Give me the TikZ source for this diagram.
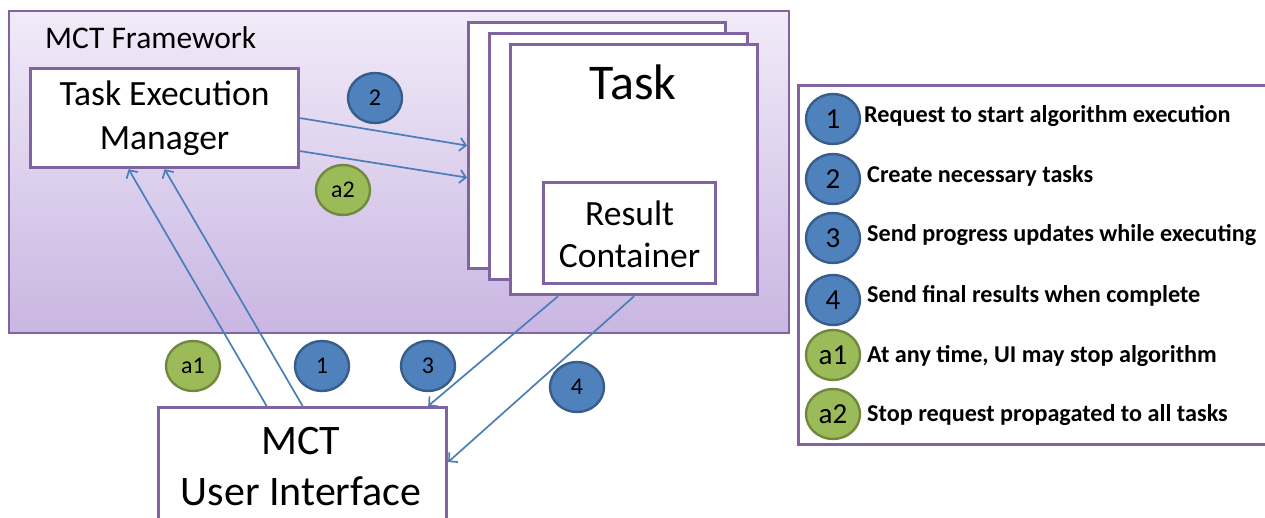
\documentclass[tikz,border=0pt]{standalone}
\usepackage{fontspec}
\setmainfont{Carlito}
\usetikzlibrary{arrows.meta,shapes.geometric,calc}
\definecolor{frame}{HTML}{8064A2}
\definecolor{flowblue}{HTML}{4A7EBB}
\definecolor{stepblue}{HTML}{4F81BD}
\definecolor{stepblueedge}{HTML}{385D8A}
\definecolor{stepgreen}{HTML}{9BBB59}
\definecolor{stepgreenedge}{HTML}{71893F}
\definecolor{fwtop}{HTML}{F1EBF8}
\definecolor{fwbottom}{HTML}{C9B6E2}
\tikzset{
  whitebox/.style={draw=frame, line width=3.2pt, fill=white, rectangle, inner sep=0pt},
  flow/.style={draw=flowblue, line width=1.7pt, -{Straight Barb[length=6pt,width=13pt,line width=1.7pt]}},
  badge/.style={ellipse, minimum width=54pt, minimum height=50pt, inner sep=0pt, line width=2.4pt},
  bluebadge/.style={badge, fill=stepblue, draw=stepblueedge},
  greenbadge/.style={badge, fill=stepgreen, draw=stepgreenedge},
  smallnum/.style={font=\fontsize{24}{26}\selectfont},
  bignum/.style={font=\fontsize{29}{30}\selectfont},
  legendtext/.style={anchor=west, inner sep=0pt, font=\fontsize{24.2}{28}\selectfont\bfseries}
}
\begin{document}
\begin{tikzpicture}[x=1pt,y=-1pt]
\clip (0,0) rectangle (1265,518);
\useasboundingbox (0,0) rectangle (1265,518);
\fill[white] (0,0) rectangle (1265,518);

% framework container
\node[rectangle, draw=frame, line width=2.4pt, top color=fwtop, bottom color=fwbottom,
      minimum width=780pt, minimum height=322pt, anchor=north west, inner sep=0pt] (fw) at (8,10) {};
\node[anchor=west, inner sep=0pt, font=\fontsize{31.5}{36}\selectfont] (fwlabel) at (45,38) {MCT Framework};

% task execution manager
\node[whitebox, minimum width=268pt, minimum height=99pt, anchor=north west] (tem) at (29,67) {};
\node[align=center, font=\fontsize{35.5}{44}\selectfont, inner sep=0pt] (temtext) at (tem.center) {Task Execution\\Manager};

% stacked tasks
\node[whitebox, minimum width=257pt, minimum height=246pt, anchor=north west] (taskA) at (467,21) {};
\node[whitebox, minimum width=258pt, minimum height=246pt, anchor=north west] (taskB) at (488,32) {};
\node[whitebox, minimum width=247pt, minimum height=250pt, anchor=north west] (taskC) at (509,43) {};
\node[font=\fontsize{50}{56}\selectfont, inner sep=0pt] (tasktext) at (633,82) {Task};
\node[whitebox, minimum width=172pt, minimum height=101pt, anchor=north west] (rc) at (542,181) {};
\node[align=center, font=\fontsize{35.5}{42}\selectfont, inner sep=0pt] (rctext) at ($(rc.center)+(0,1)$) {Result\\Container};

% user interface
\node[whitebox, minimum width=288pt, minimum height=160pt, anchor=north west] (ui) at (157,406) {};
\node[align=center, font=\fontsize{42}{51}\selectfont, inner sep=0pt] (uitext) at (301,467) {MCT\\User Interface};

% connectors
\draw[flow] (tem.east) -- (taskA.west);
\draw[flow] ([yshift=-33pt]tem.east) -- ([yshift=-32pt]taskA.west);
\draw[flow] (ui.north) -- (tem.south);
\draw[flow] ([xshift=-36pt]ui.north) -- ([xshift=-36pt]tem.south);
\draw[flow] ([xshift=-76pt]taskC.south) -- ([xshift=-20pt]ui.north east);
\draw[flow] (taskC.south) -- ([yshift=-56pt]ui.north east);

% step markers
\node[bluebadge, smallnum] (s2) at (375,98) {2};
\node[greenbadge, smallnum] (sa2) at (343,190) {a2};
\node[greenbadge, smallnum] (sa1) at (193,366) {a1};
\node[bluebadge, smallnum] (s1) at (322,366) {1};
\node[bluebadge, smallnum] (s3) at (428,366) {3};
\node[bluebadge, smallnum] (s4) at (577,387) {4};

% legend
\node[rectangle, draw=frame, line width=3pt, fill=white, minimum width=490pt, minimum height=359pt,
      anchor=north west, inner sep=0pt] (legend) at (797,84) {};
\node[bluebadge, bignum] (l1) at (833,119) {1};
\node[bluebadge, bignum] (l2) at (833,179) {2};
\node[bluebadge, bignum] (l3) at (833,238) {3};
\node[bluebadge, bignum] (l4) at (833,300) {4};
\node[greenbadge, bignum] (la1) at (833,355) {a1};
\node[greenbadge, bignum] (la2) at (833,414) {a2};
\node[legendtext] (t1) at (864,116) {Request to start algorithm execution};
\node[legendtext] (t2) at (867,176) {Create necessary tasks};
\node[legendtext] (t3) at (867,235) {Send progress updates while executing};
\node[legendtext] (t4) at (867,296) {Send final results when complete};
\node[legendtext] (t5) at (867,356) {At any time, UI may stop algorithm};
\node[legendtext] (t6) at (867,415) {Stop request propagated to all tasks};
\end{tikzpicture}
\end{document}
